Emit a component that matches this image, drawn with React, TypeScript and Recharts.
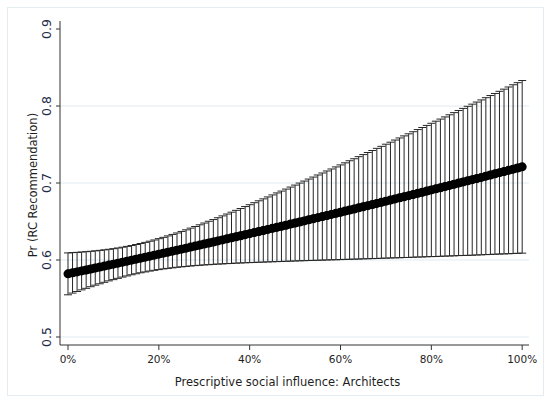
import React from 'react';
import { LineChart, Line, XAxis, YAxis, ErrorBar, ReferenceLine, Label } from 'recharts';

// Prescriptive social influence (%), one margin estimate per percent
const influence = [
  0, 1, 2, 3, 4, 5, 6, 7, 8, 9, 10, 11, 12, 13, 14, 15, 16, 17, 18, 19,
  20, 21, 22, 23, 24, 25, 26, 27, 28, 29, 30, 31, 32, 33, 34, 35, 36, 37, 38, 39,
  40, 41, 42, 43, 44, 45, 46, 47, 48, 49, 50, 51, 52, 53, 54, 55, 56, 57, 58, 59,
  60, 61, 62, 63, 64, 65, 66, 67, 68, 69, 70, 71, 72, 73, 74, 75, 76, 77, 78, 79,
  80, 81, 82, 83, 84, 85, 86, 87, 88, 89, 90, 91, 92, 93, 94, 95, 96, 97, 98, 99,
  100,
];

// Pr (RC Recommendation), point estimates
const estimate = [
  0.582, 0.5833, 0.5845, 0.5858, 0.587, 0.5883, 0.5896, 0.5908, 0.5921, 0.5934,
  0.5946, 0.5959, 0.5972, 0.5985, 0.5998, 0.6011, 0.6024, 0.6037, 0.605, 0.6063,
  0.6076, 0.6089, 0.6102, 0.6115, 0.6128, 0.6141, 0.6154, 0.6168, 0.6181, 0.6194,
  0.6208, 0.6221, 0.6234, 0.6248, 0.6261, 0.6275, 0.6288, 0.6302, 0.6315, 0.6329,
  0.6342, 0.6356, 0.637, 0.6383, 0.6397, 0.6411, 0.6425, 0.6438, 0.6452, 0.6466,
  0.648, 0.6494, 0.6508, 0.6522, 0.6536, 0.655, 0.6564, 0.6578, 0.6592, 0.6606,
  0.662, 0.6635, 0.6649, 0.6663, 0.6677, 0.6692, 0.6706, 0.672, 0.6735, 0.6749,
  0.6764, 0.6778, 0.6793, 0.6807, 0.6822, 0.6836, 0.6851, 0.6866, 0.688, 0.6895,
  0.691, 0.6924, 0.6939, 0.6954, 0.6969, 0.6984, 0.6999, 0.7014, 0.7028, 0.7043,
  0.7058, 0.7073, 0.7089, 0.7104, 0.7119, 0.7134, 0.7149, 0.7164, 0.718, 0.7195,
  0.721,
];

// half width of the 95% CI
const ciHalf = [
  0.0272, 0.0263, 0.0254, 0.0246, 0.0238, 0.023, 0.0223, 0.0217, 0.0211, 0.0205,
  0.0201, 0.0197, 0.0194, 0.0192, 0.019, 0.019, 0.019, 0.0192, 0.0194, 0.0197,
  0.0201, 0.0205, 0.0211, 0.0217, 0.0223, 0.023, 0.0238, 0.0246, 0.0254, 0.0263,
  0.0272, 0.0282, 0.0291, 0.0301, 0.0312, 0.0322, 0.0333, 0.0343, 0.0354, 0.0365,
  0.0376, 0.0388, 0.0399, 0.0411, 0.0422, 0.0434, 0.0446, 0.0457, 0.0469, 0.0481,
  0.0493, 0.0505, 0.0517, 0.0529, 0.0541, 0.0554, 0.0566, 0.0578, 0.059, 0.0603,
  0.0615, 0.0627, 0.064, 0.0652, 0.0665, 0.0677, 0.069, 0.0702, 0.0715, 0.0727,
  0.074, 0.0752, 0.0765, 0.0778, 0.079, 0.0803, 0.0815, 0.0828, 0.0841, 0.0853,
  0.0866, 0.0879, 0.0891, 0.0904, 0.0917, 0.093, 0.0942, 0.0955, 0.0968, 0.0981,
  0.0993, 0.1006, 0.1019, 0.1032, 0.1044, 0.1057, 0.107, 0.1083, 0.1096, 0.1108,
  0.1121,
];

const xTicks = [0, 20, 40, 60, 80, 100];
const yTicks = [0.5, 0.6, 0.7, 0.8, 0.9];
const gridValues = [0.5, 0.6, 0.7, 0.8];

const rows = influence.map((x, i) => ({ x, est: estimate[i], ci: ciHalf[i] }));

const FONT = '"DejaVu Sans", Verdana, sans-serif';
const INK = '#1e1e1e';

const XTick = ({ x, y, payload }: any) => (
  <text x={x} y={y} dy="0.71em" textAnchor="middle" fontSize={10.5} fontFamily={FONT} fill={INK}>
    {payload.value}%
  </text>
);

const YTick = ({ x, y, payload }: any) => (
  <text
    x={x}
    y={y}
    transform={`rotate(-90 ${x} ${y})`}
    textAnchor="middle"
    fontSize={12.5}
    fontFamily={FONT}
    fill="#1b2a48"
  >
    {payload.value.toFixed(1)}
  </text>
);

export default function App() {
  return (
    <div style={{ position: 'absolute', left: 0, top: 0, width: 550, height: 403, background: '#fff' }}>
      <div
        style={{
          position: 'absolute',
          left: 7,
          top: 7,
          width: 535,
          height: 387,
          border: '1px solid #e3ecef',
        }}
      />
      <div style={{ position: 'absolute', left: 0, top: 0 }}>
        <LineChart width={550} height={403} data={rows} margin={{ top: 21, right: 21, bottom: 0, left: 0 }}>
          {gridValues.map((v) => (
            <ReferenceLine key={v} y={v} stroke="#e0ebee" strokeWidth={1} />
          ))}
          <XAxis
            dataKey="x"
            type="number"
            domain={[-1.76, 101.5]}
            ticks={xTicks}
            interval={0}
            height={58}
            tickSize={5}
            tickMargin={6}
            tick={<XTick />}
            stroke="#333"
            allowDataOverflow
          >
            <Label
              content={({ viewBox }: any) => (
                <text
                  x={viewBox.x + viewBox.width / 2 - 7}
                  y={viewBox.y + 41}
                  textAnchor="middle"
                  fontSize={11.5}
                  fontFamily={FONT}
                  fill={INK}
                >
                  Prescriptive social influence: Architects
                </text>
              )}
            />
          </XAxis>
          <YAxis
            type="number"
            domain={[0.4896, 0.9104]}
            ticks={yTicks}
            interval={0}
            width={60}
            tickSize={4}
            tickMargin={5}
            tick={<YTick />}
            stroke="#333"
            allowDataOverflow
          >
            <Label
              content={({ viewBox }: any) => {
                const cx = 37;
                const cy = viewBox.y + viewBox.height / 2 + 2;
                return (
                  <text
                    x={cx}
                    y={cy}
                    transform={`rotate(-90 ${cx} ${cy})`}
                    textAnchor="middle"
                    fontSize={11.5}
                    fontFamily={FONT}
                    fill={INK}
                  >
                    Pr (RC Recommendation)
                  </text>
                );
              }}
            />
          </YAxis>
          <Line
            dataKey="est"
            stroke="none"
            dot={false}
            activeDot={false}
            isAnimationActive={false}
          >
            <ErrorBar dataKey="ci" width={4} stroke="#262626" strokeWidth={1} direction="y" />
          </Line>
          <Line
            dataKey="est"
            stroke="#000"
            strokeWidth={8}
            dot={{ r: 4.5, fill: '#000', stroke: 'none' }}
            activeDot={false}
            isAnimationActive={false}
          />
        </LineChart>
      </div>
    </div>
  );
}
